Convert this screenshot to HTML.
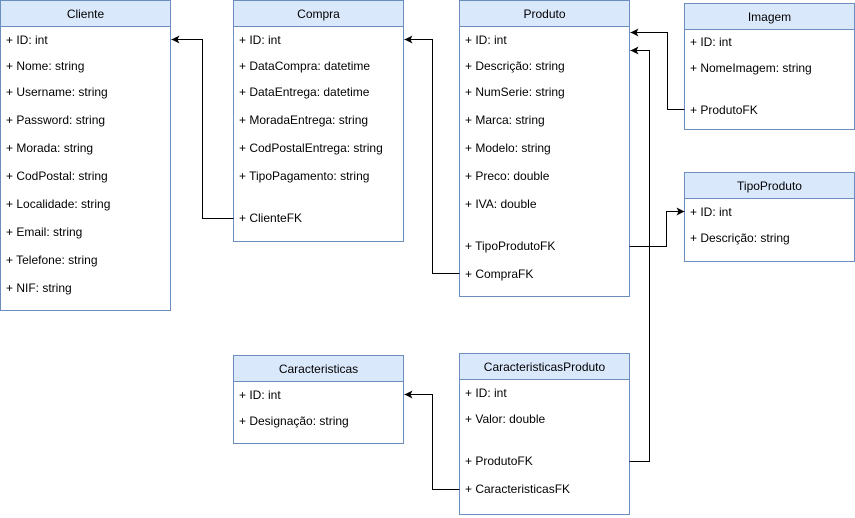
<!DOCTYPE html>
<html><head><meta charset="utf-8"><style>
html,body{margin:0;padding:0;background:#fff;}
svg{display:block;font-family:"Liberation Sans",Arial,sans-serif;font-size:12px;}
</style></head><body>
<svg width="855" height="518" viewBox="0 0 855 518" xmlns="http://www.w3.org/2000/svg">
<defs>
<marker id="a" markerWidth="10" markerHeight="10" refX="9" refY="5" orient="auto" markerUnits="userSpaceOnUse">
<path d="M9,5 L1,1 L3,5 L1,9 Z" fill="#000"/>
</marker>
</defs>
<g fill="#fff" stroke="#6c8ebf" stroke-width="1">
<rect x="0.5" y="0.5" width="170" height="310"/>
<rect x="233.5" y="0.5" width="170" height="241"/>
<rect x="459.5" y="0.5" width="170" height="296"/>
<rect x="684.5" y="3.5" width="170" height="126"/>
<rect x="684.5" y="172.5" width="170" height="89"/>
<rect x="233.5" y="355.5" width="170" height="88"/>
<rect x="459.5" y="353.5" width="170" height="161"/>
</g>
<g fill="#dae8fc" stroke="#6c8ebf" stroke-width="1">
<rect x="0.5" y="0.5" width="170" height="26"/>
<rect x="233.5" y="0.5" width="170" height="26"/>
<rect x="459.5" y="0.5" width="170" height="26"/>
<rect x="684.5" y="3.5" width="170" height="26"/>
<rect x="684.5" y="172.5" width="170" height="26"/>
<rect x="233.5" y="355.5" width="170" height="26"/>
<rect x="459.5" y="353.5" width="170" height="26"/>
</g>
<g fill="#000" text-anchor="middle">
<text x="85.5" y="18">Cliente</text>
<text x="318.5" y="18">Compra</text>
<text x="544.5" y="18">Produto</text>
<text x="769.5" y="21">Imagem</text>
<text x="769.5" y="190">TipoProduto</text>
<text x="318.5" y="373">Caracteristicas</text>
<text x="544.5" y="371">CaracteristicasProduto</text>
</g>
<g fill="#000">
<text x="6" y="44">+ ID: int</text>
<text x="6" y="70">+ Nome: string</text>
<text x="6" y="96">+ Username: string</text>
<text x="6" y="124">+ Password: string</text>
<text x="6" y="152">+ Morada: string</text>
<text x="6" y="180">+ CodPostal: string</text>
<text x="6" y="208">+ Localidade: string</text>
<text x="6" y="236">+ Email: string</text>
<text x="6" y="264">+ Telefone: string</text>
<text x="6" y="292">+ NIF: string</text>

<text x="239" y="44">+ ID: int</text>
<text x="239" y="70">+ DataCompra: datetime</text>
<text x="239" y="96">+ DataEntrega: datetime</text>
<text x="239" y="124">+ MoradaEntrega: string</text>
<text x="239" y="152">+ CodPostalEntrega: string</text>
<text x="239" y="180">+ TipoPagamento: string</text>
<text x="239" y="222">+ ClienteFK</text>

<text x="465" y="44">+ ID: int</text>
<text x="465" y="70">+ Descrição: string</text>
<text x="465" y="96">+ NumSerie: string</text>
<text x="465" y="124">+ Marca: string</text>
<text x="465" y="152">+ Modelo: string</text>
<text x="465" y="180">+ Preco: double</text>
<text x="465" y="208">+ IVA: double</text>
<text x="465" y="250">+ TipoProdutoFK</text>
<text x="465" y="278">+ CompraFK</text>

<text x="690" y="46">+ ID: int</text>
<text x="690" y="72">+ NomeImagem: string</text>
<text x="690" y="114">+ ProdutoFK</text>

<text x="690" y="216">+ ID: int</text>
<text x="690" y="242">+ Descrição: string</text>

<text x="239" y="399">+ ID: int</text>
<text x="239" y="425">+ Designação: string</text>

<text x="465" y="397">+ ID: int</text>
<text x="465" y="423">+ Valor: double</text>
<text x="465" y="465">+ ProdutoFK</text>
<text x="465" y="493">+ CaracteristicasFK</text>
</g>
<g fill="none" stroke="#000" stroke-width="1">
<path d="M233.5,218.5 H202.5 V39.5 H171.5" marker-end="url(#a)"/>
<path d="M459.5,273.5 H432.5 V39.5 H404.5" marker-end="url(#a)"/>
<path d="M684.5,109.5 H667.5 V32.5 H630.5" marker-end="url(#a)"/>
<path d="M629.5,461.5 H649.5 V50.5 H630.5" marker-end="url(#a)"/>
<path d="M629.5,246.5 H666.5 V211.5 H684.5" marker-end="url(#a)"/>
<path d="M459.5,489.5 H432.5 V394.5 H404.5" marker-end="url(#a)"/>
</g>
</svg>
</body></html>
